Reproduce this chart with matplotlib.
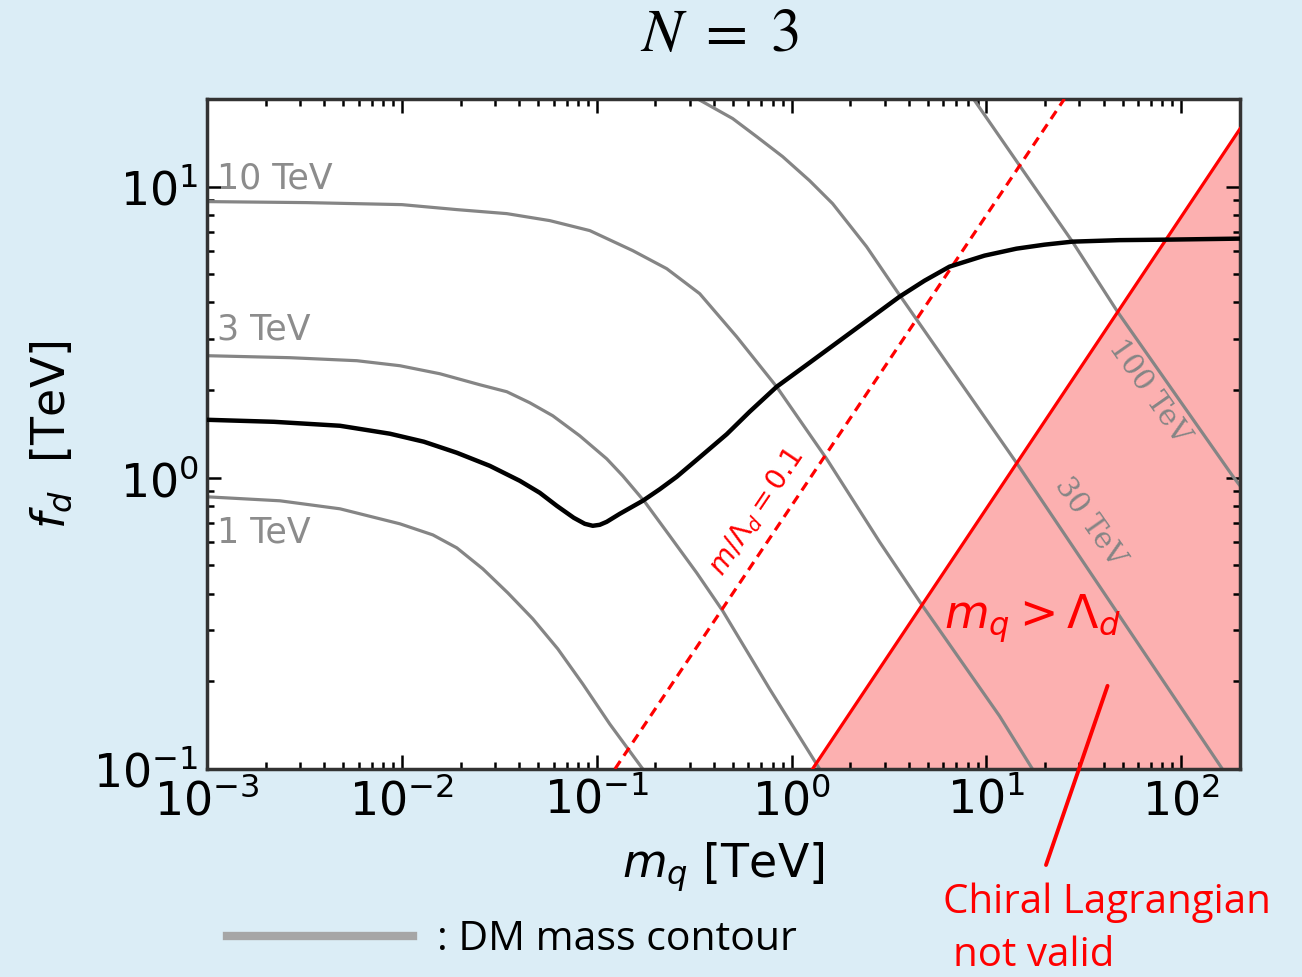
import matplotlib.pyplot as plt

# Relic line: dark-quark mass m_q [TeV] vs decay constant f_d [TeV]
mq_relic = [0.001, 0.002207, 0.004811, 0.00868, 0.01297, 0.01914, 0.02827, 0.04028,
            0.05101, 0.06234, 0.07622, 0.0868, 0.09539, 0.1036, 0.1125, 0.1312,
            0.1722, 0.2103, 0.2572, 0.3375, 0.4642, 0.6089, 0.8378, 1.237, 1.763,
            2.512, 3.579, 4.811, 6.461, 9.766, 14.25, 19.83, 27.61, 48.11, 83.78, 200.0]
fd_relic = [1.582, 1.557, 1.509, 1.417, 1.330, 1.219, 1.099, 0.9765,
            0.8882, 0.8014, 0.7288, 0.6950, 0.6842, 0.6895, 0.7060, 0.7520,
            0.8337, 0.913, 1.008, 1.176, 1.411, 1.686, 2.054, 2.485, 2.957,
            3.519, 4.188, 4.753, 5.311, 5.794, 6.122, 6.318, 6.471, 6.549, 6.574, 6.628]

# DM mass contours (1, 3, 10, 30, 100 TeV)
mq_1tev = [0.001, 0.002367, 0.004811, 0.009766, 0.01442, 0.01914, 0.02602, 0.03496,
           0.04696, 0.0631, 0.08476, 0.1166, 0.1722]
fd_1tev = [0.8604, 0.8337, 0.7825, 0.6950, 0.6366, 0.5746, 0.4867, 0.4025,
           0.3278, 0.2585, 0.1959, 0.1427, 0.1]

mq_3tev = [0.001, 0.002664, 0.005878, 0.009766, 0.01566, 0.02512, 0.03455, 0.04533,
           0.05947, 0.08178, 0.1125, 0.1359, 0.1763, 0.2368, 0.3257, 0.4429, 0.7711, 1.392]
fd_3tev = [2.626, 2.585, 2.524, 2.426, 2.277, 2.087, 1.975, 1.810,
           1.633, 1.394, 1.162, 1.016, 0.827, 0.6319, 0.4716, 0.3491, 0.1883, 0.1]

mq_10tev = [0.001, 0.003256, 0.01, 0.01914, 0.03455, 0.05741, 0.0921, 0.153, 0.2286,
            0.3375, 0.5224, 0.8378, 1.512, 2.827, 4.697, 11.66, 17.21]
fd_10tev = [8.882, 8.811, 8.672, 8.337, 8.076, 7.642, 7.062, 6.028, 5.226,
            4.289, 3.051, 2.054, 1.162, 0.6026, 0.3633, 0.1521, 0.1]

mq_30tev = [0.3296, 0.4982, 0.6614, 0.8991, 1.237, 1.623, 2.424, 3.455, 6.461,
            14.25, 48.11, 162.3]
fd_30tev = [20.0, 17.13, 14.85, 12.68, 10.48, 8.742, 6.22, 4.391, 2.407,
            1.126, 0.3356, 0.1]

mq_100tev = [8.577, 14.8, 27.6, 47.0, 183.0, 200.0]
fd_100tev = [20.0, 11.8, 6.47, 3.72, 1.016, 0.939]

contours = [(mq_1tev, fd_1tev), (mq_3tev, fd_3tev), (mq_10tev, fd_10tev),
            (mq_30tev, fd_30tev), (mq_100tev, fd_100tev)]

# m_q = Lambda_d boundary and m_q / Lambda_d = 0.1 line
mq_edge = [1.28, 200.0]
fd_edge = [0.1, 15.8]
mq_tenth = [0.124, 25.1]
fd_tenth = [0.1, 20.0]

BG = '#dbedf6'
GRAY = '#858585'

fig = plt.figure(figsize=(13.02, 9.78), dpi=100, facecolor=BG)
ax = fig.add_axes([0.159, 0.2127, 0.7934, 0.6851])
ax.set_facecolor('white')
ax.set_xscale('log')
ax.set_yscale('log')
ax.set_xlim(1e-3, 2e2)
ax.set_ylim(0.1, 20)

# excluded region where the chiral Lagrangian breaks down
ax.fill_between(mq_edge, [0.1, 0.1], fd_edge, color='#fcb0b0', lw=0, zorder=1)

for mq, fd in contours:
    ax.plot(mq, fd, color=GRAY, lw=2.3, zorder=2, solid_joinstyle='round')

ax.plot(mq_relic, fd_relic, color='black', lw=3.2, zorder=4, solid_joinstyle='round')
ax.plot(mq_edge, fd_edge, color='red', lw=2.3, zorder=3)
ax.plot(mq_tenth, fd_tenth, color='red', lw=2.3, ls=(0, (3, 2)), zorder=3)

# contour labels
ax.text(1.12e-3, 9.93, '10 TeV', color='#8c8c8c', fontsize=25, va='baseline')
ax.text(1.12e-3, 3.0, '3 TeV', color='#8c8c8c', fontsize=25, va='baseline')
ax.text(1.12e-3, 0.603, '1 TeV', color='#8c8c8c', fontsize=25, va='baseline')
ax.text(68.5, 1.99, '100 TeV', color=GRAY, fontsize=21, family='DejaVu Serif',
        rotation=-55, ha='center', va='center')
ax.text(33.7, 0.711, '30 TeV', color=GRAY, fontsize=21, family='DejaVu Serif',
        rotation=-55, ha='center', va='center')
ax.text(0.662, 0.77, r'$m/\Lambda_d = 0.1$', color='red', fontsize=20,
        rotation=56, ha='center', va='center')
ax.text(17.2, 0.33, r'$m_q > \Lambda_d$', color='red', fontsize=33,
        ha='center', va='center')

ax.set_xlabel(r'$m_q$ [TeV]', fontsize=33, labelpad=12)
ax.set_ylabel(r'$f_d$  [TeV]', fontsize=33, labelpad=14)

ax.tick_params(which='both', direction='in', top=True, right=True, width=1.8,
               labelsize=33)
ax.tick_params(which='major', length=10, pad=6)
ax.tick_params(which='minor', length=5)
for s in ax.spines.values():
    s.set_color('#333333')
    s.set_linewidth(2.5)

fig.text(0.5530, 0.965, r'$N\ =\ 3$', fontsize=44, math_fontfamily='stix',
         ha='center', va='center')

# legend entry for the grey contours
fig.add_artist(plt.Line2D([227 / 1302, 413 / 1302], [1 - 937 / 978] * 2,
                          color='#a6a6a6', lw=6))
fig.text(437 / 1302, 1 - 940 / 978, ': DM mass contour', fontsize=29.5,
         family='Open Sans', va='center')

# pointer to the excluded region
ax.annotate('', xy=(41.8, 0.193), xytext=(1046, 978 - 866),
            textcoords='figure pixels',
            arrowprops=dict(arrowstyle='-', color='red', lw=2.8,
                            shrinkA=0, shrinkB=0))
fig.text(943 / 1302, 1 - 913 / 978, 'Chiral Lagrangian', color='red',
         fontsize=29, family='Open Sans', va='baseline', ha='left')
fig.text(953 / 1302, 1 - 966 / 978, 'not valid', color='red',
         fontsize=29, family='Open Sans', va='baseline', ha='left')

fig.savefig('out.png', dpi=100, facecolor=BG)
